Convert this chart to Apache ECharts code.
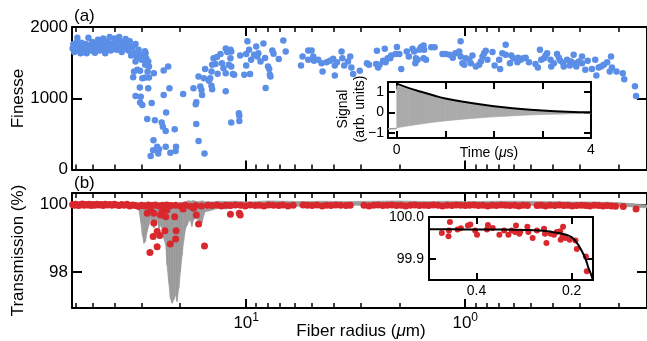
<!DOCTYPE html>
<html><head><meta charset="utf-8">
<script src="https://cdn.jsdelivr.net/npm/echarts@6/dist/echarts.min.js"></script>
<style>html,body{margin:0;padding:0;background:#fff}#c{width:647px;height:341px}</style>
</head><body><div id="c"></div>
<script>
// ---------- DATA ----------
// (a) Finesse vs fiber radius [radius (um), finesse]
const finessePoints = [
[62,1700],[61.5,1760],[61,1650],[60.5,1720],[60,1690],[59.5,1780],[59,1850],[58.5,1740],[58,1670],[57.5,1710],[57,1630],[56.5,1780],[56,1700],[55.5,1650],[55,1740],[54.5,1690],[54,1760],[53.5,1630],[53,1720],[52.5,1850],[52,1680],[51.5,1740],[51,1700],[50.5,1790],[50,1660],[49.5,1720],[49,1640],[48.5,1770],[48,1700],[47.5,1820],[47,1730],[46.5,1670],[46,1780],[45.5,1700],[45,1840],[44.5,1750],[44,1630],[43.5,1690],[43,1800],[42.5,1730],[42,1860],[41.5,1670],[41,1770],[40.5,1710],[40,1840],[39.5,1750],[39,1680],[38.5,1810],[38,1860],[37.5,1730],[37,1650],[36.5,1790],[36,1700],[35.5,1830],[35,1750],[34.5,1670],[34,1800],[33.5,1600],[33,1720],[32.5,1640],[32,1760],[31.5,1570],[31,1680],[30.5,1610],[30,1540],[29.5,1590],[29,1660],[28.5,1500],
[33.9,1720],[28.8,1630],[28.6,1560],[28.0,1515],[28.9,1470],[32.0,1515],[31.4,1400],[32.5,1375],[32.8,1295],[30.5,1385],[27.8,1445],[28.2,1375],[27.8,1290],[29.8,1280],[28.9,1290],[26.4,1350],[22.7,1445],[23.8,1390],[30.6,1150],[28.0,1140],[32.0,1030],[30.3,1020],[30.5,940],[29.8,905],[27.0,935],[22.4,1140],[23.8,1045],[23.2,800],[28.3,710],[26.1,690],[24.3,660],[24.0,600],[23.3,540],[21.2,565],[26.5,410],[25.5,320],[26.6,270],[25.0,285],[25.2,225],[27.3,190],[23.3,320],[22.2,235],[20.9,320],[21.0,260],
[19.4,1060],[16.9,945],[17.0,915],[16.9,640],[16.5,400],[15.5,225],[17.4,1140],[16.5,1305],[16.2,1165],[16.0,1115],[15.9,1045],[15.6,1280],[15.4,1410],[14.8,1245],[14.6,1280],[14.4,1175],[14.3,1125],[14.4,1375],[14.3,1470],[13.8,1480],[14.1,1560],[13.6,1580],[13.1,1620],[13.5,1345],[12.9,1490],[12.7,1420],[12.4,1700],[12.2,1650],[11.8,1680],[11.7,1655],[12.4,1350],[12.0,1470],[11.7,1445],[11.5,1340],[11.35,1330],[11.8,1560],[12.4,1100],[10.8,790],[10.75,755],[10.75,680],[11.7,660],[10.65,1600],[10.2,1330],[10.0,1620],[9.87,1800],[9.70,1680],[10.0,1460],[9.6,1340],[9.5,1540],[9.2,1610],
[9.0,1725],[8.8,1630],[8.9,1585],[8.6,1515],[8.34,1770],[8.2,1565],[8.15,1145],[7.95,1445],[7.85,1410],[7.8,1330],[7.75,1305],[7.6,1670],[7.5,1625],[7.1,1550],[6.77,1810],[6.6,1655],
[5.62,1460],[5.53,1585],[5.21,1670],[5.03,1670],[5.21,1540],[4.94,1585],[4.9,1525],[4.69,1540],[4.53,1490],[4.48,1375],[4.30,1505],[4.15,1525],[4.01,1555],[3.94,1460],[3.94,1320],[3.85,1505],[3.67,1655],[3.64,1560],[3.57,1460],[3.43,1515],[3.35,1585],[3.31,1430],[3.25,1340],[3.03,1385],[2.81,1490],[2.75,1470],[2.53,1665],[2.55,1480],[2.50,1430],[2.46,1470],[2.33,1695],[2.37,1525],[2.31,1505],[2.26,1560],[2.20,1560],[2.18,1600],[2.08,1620],[2.05,1720],[2.00,1620],[1.96,1410],[1.85,1655],[1.81,1585],[1.74,1695],[1.71,1655],[1.68,1560],[1.65,1540],[1.69,1490],[1.62,1680],[1.59,1720],[1.55,1740],[1.54,1680],[1.55,1560],[1.51,1540],[1.43,1715],[1.38,1715],[1.27,1620],[1.23,1620],
[1.18,1610],[1.14,1570],[1.11,1630],[1.065,1655],[1.05,1800],[1.05,1585],[1.03,1490],[1.01,1470],[0.994,1560],[0.959,1540],[0.927,1600],[0.943,1490],[0.895,1445],[0.864,1470],[0.849,1515],[0.834,1585],[0.82,1630],[0.806,1665],[0.792,1540],[0.751,1650],[0.734,1460],[0.70,1540],[0.693,1410],[0.677,1630],[0.654,1750],[0.654,1610],[0.625,1490],[0.616,1600],[0.603,1560],[0.578,1505],[0.574,1570],[0.559,1540],[0.543,1560],[0.530,1570],[0.512,1505],[0.478,1480],[0.466,1430],[0.456,1680],[0.45,1540],[0.437,1560],[0.43,1600],[0.423,1630],[0.408,1540],[0.405,1445],[0.394,1490],[0.381,1620],[0.374,1570],[0.368,1525],[0.357,1490],[0.355,1445],[0.343,1540],[0.333,1460],[0.329,1515],[0.320,1610],[0.314,1490],[0.311,1445],[0.303,1515],[0.293,1585],[0.293,1490],[0.283,1400],[0.276,1525],[0.264,1410],[0.255,1540],[0.252,1320],[0.246,1430],[0.240,1445],[0.233,1470],[0.225,1505],[0.219,1375],[0.216,1585],[0.214,1430],[0.204,1375],[0.191,1350],[0.188,1265],[0.168,1170],[0.166,1030]
];

// (b) measured transmission points [radius (um), transmission (%)]
const transmissionPoints = [
[62,100.0],[61,99.98],[60,100.01],[59,99.99],[58,99.97],[57,100.0],[56,100.02],[55,99.98],[54,100.0],[53,99.99],[52,100.01],[51,99.97],[50,100.0],[49,99.98],[48,100.01],[47,99.99],[46,100.0],[45,99.97],[44,100.01],[43,99.99],[42,100.0],[41,99.98],[40,100.01],[39,99.99],[38,99.97],[37,100.0],[36,99.98],[35,100.01],[34,99.96],[33,99.99],[32,99.97],[31,99.95],[30,99.98],[29,99.96],[28,99.99],[27,99.97],
[26,99.99],[25,99.96],[24,99.98],[23,99.99],[22,99.97],[21,99.98],[20,99.96],[19,99.99],[18,99.95],[17,99.97],[16,99.96],[15,99.98],[14.3,99.97],[13.6,99.99],[13,99.96],[12.4,99.98],[11.8,99.97],[11.2,99.99],[10.6,99.98],[10.1,99.96],[9.6,99.99],[9.1,99.97],[8.7,99.98],[8.3,99.96],[7.9,99.99],[7.5,99.98],[7.1,99.97],[6.8,99.99],[6.45,99.96],[6.1,99.98],[5.5,99.99],[5.25,99.98],[5.0,99.97],[4.75,99.99],[4.5,99.96],[4.3,99.98],[4.1,99.97],[3.9,99.99],[3.7,99.98],[3.5,99.97],[3.35,99.98],[2.9,99.98],[2.75,99.96],[2.62,99.98],[2.5,99.99],[2.38,99.97],[2.27,99.98],[2.16,99.99],[2.06,99.97],[1.96,99.98],[1.87,99.96],[1.78,99.98],[1.7,99.99],[1.62,99.97],[1.54,99.98],[1.47,99.97],[1.4,99.99],[1.33,99.98],[1.27,99.96],[1.21,99.98],[1.15,99.97],[1.1,99.99],[1.05,99.98],[1.0,99.97],[0.955,99.98],[0.91,99.99],[0.87,99.97],[0.83,99.98],[0.79,99.96],[0.755,99.98],[0.72,99.97],[0.685,99.99],[0.655,99.98],[0.625,99.97],[0.595,99.98],[0.57,99.96],[0.545,99.98],[0.52,99.97],[0.47,99.97],[0.45,99.98],[0.43,99.96],[0.41,99.98],[0.39,99.97],[0.372,99.99],[0.355,99.97],[0.34,99.98],[0.325,99.96],[0.31,99.97],[0.295,99.98],[0.282,99.97],[0.27,99.96],[0.258,99.98],[0.246,99.97],[0.235,99.96],[0.225,99.97],[0.215,99.96],[0.206,99.95],[0.19,99.94],[0.166,99.87],
[28.3,99.74],[26.4,99.74],[27.3,99.87],[24.6,99.69],[24.2,99.79],[23.3,99.64],[23.8,99.94],[22.7,99.94],[23.0,99.84],[21.2,99.64],[19.4,99.87],[26.4,99.45],[25.5,99.2],[26.6,99.05],[24.8,99.08],[23.5,99.22],[20.9,99.22],[21.0,98.98],[22.2,98.83],[25.5,98.75],[27.5,98.58],[15.5,98.77],[16.5,99.42],[16.9,99.69],[11.8,99.71],[10.75,99.74],[10.65,99.69],[17.4,99.89]
];

// (b) continuous transmission trace envelope
const traceRadius = [62.4,47,40,34.3,32.5,30.9,30.3,29.8,29.3,28.8,28.3,27.8,27.3,26.9,26.4,25.9,25.5,25.0,24.6,24.2,23.8,23.3,23.0,22.6,22.2,21.8,21.4,21.0,20.7,20.3,19.95,19.6,19.3,18.9,18.6,18.3,18.0,17.7,17.4,17.0,16.5,15.9,15.6,15.4,14.8,14.3,13.4,12.5,11.2,9.76,7.92,6.5,5.78,4.5,3.43,2.6,2.03,1.5,1.2,0.9,0.713,0.55,0.423,0.32,0.25,0.203,0.173,0.148];
const traceHigh = [100.05,100.06,100.05,100.06,100.06,100.05,
100.06,100.05,100.07,100.06,100.05,100.07,100.06,100.05,100.06,100.07,100.05,100.06,100.07,100.06,100.05,100.06,100.04,100.05,100.06,100.05,100.04,100.05,100.06,100.05,
100.06,100.07,100.06,100.08,100.1,100.12,100.1,100.11,100.12,100.1,100.09,100.11,100.1,100.08,100.09,100.08,
100.1,100.09,100.1,100.08,100.11,100.1,100.09,100.1,100.09,100.1,100.11,100.09,100.1,100.09,100.1,100.1,100.09,100.08,100.08,100.06,100.03,99.99];
const traceLow = [99.97,99.97,99.96,99.95,99.92,99.83,99.50,99.10,98.85,98.91,99.21,99.39,99.59,99.47,99.30,99.39,99.56,99.25,99.39,99.30,99.00,98.80,98.21,97.72,97.22,97.07,97.17,97.32,97.12,97.52,98.01,98.50,98.90,99.30,99.39,99.50,99.54,99.35,99.54,99.59,99.54,99.45,99.69,99.79,99.81,99.84,99.89,99.87,99.91,99.94,99.96,99.97,99.95,99.97,99.98,99.97,99.98,99.97,99.98,99.98,99.98,99.97,99.98,99.97,99.98,99.96,99.93,99.90];

// inset (a): ring-down signal
const preTime = [-0.18,-0.1,0];
const preSignal = [-0.8,-0.8,-0.78];
const ringTime = [0,0.25,0.5,0.75,1,1.25,1.5,1.75,2,2.25,2.5,2.75,3,3.25,3.5,3.75,4];
const ringHigh = [1.32,1.13,0.97,0.82,0.67,0.56,0.46,0.38,0.3,0.24,0.18,0.14,0.1,0.07,0.05,0.03,0.02];
const ringLow = [-0.75,-0.65,-0.56,-0.48,-0.41,-0.35,-0.3,-0.25,-0.21,-0.18,-0.15,-0.12,-0.1,-0.08,-0.07,-0.05,-0.04];
const envTime = [0,0.25,0.5,0.75,1,1.5,2,2.5,3,3.5,4];
const envSignal = [1.42,1.2,1.02,0.85,0.69,0.48,0.31,0.19,0.1,0.04,0.01];

// inset (b): zoom on small radii
const insetPoints = [[0.473,99.962],[0.459,99.954],[0.456,99.988],[0.458,99.968],[0.44,99.970],[0.433,99.973],[0.418,99.980],[0.413,99.982],[0.403,99.968],[0.399,99.958],[0.378,99.970],[0.376,99.981],[0.366,99.974],[0.352,99.958],[0.342,99.968],[0.333,99.958],[0.326,99.968],[0.317,99.980],[0.319,99.964],[0.31,99.960],[0.308,99.965],[0.293,99.977],[0.291,99.964],[0.282,99.950],[0.273,99.968],[0.258,99.972],[0.256,99.960],[0.253,99.938],[0.244,99.960],[0.237,99.958],[0.231,99.964],[0.224,99.966],[0.223,99.946],[0.218,99.977],[0.219,99.954],[0.213,99.95],[0.204,99.946],[0.192,99.944],[0.189,99.924],[0.17,99.906],[0.168,99.871]];
const fitRadius = [0.5,0.45,0.4,0.35,0.3,0.27,0.25,0.235,0.22,0.21,0.2,0.19,0.18,0.17,0.165,0.16,0.155];
const fitT = [99.971,99.971,99.970,99.970,99.969,99.968,99.966,99.963,99.960,99.957,99.952,99.940,99.922,99.898,99.880,99.866,99.849];

// tick values
const majorTicks = [10, 1];
const minorTicks = [60,50,40,30,20,9,8,7,6,5,4,3,2,0.9,0.8,0.7,0.6,0.5,0.4,0.3,0.2];
const finesseTicks = [0,1000,2000];
const transTicks = [98,100];
const timeTicks = [0,1,2,3,4];
const timeLabels = [0,4];
const signalTicks = [-1,0,1];
const insetXTicks = [0.2,0.4];
const insetYTicks = [99.9,100.0];

// ---------- CHART ----------
const FONT = "'Liberation Sans', Arial, Helvetica, sans-serif";
const BLUE = '#5b8ee6', RED = '#d8272d', GRAY = '#9b9b9b';
const R_MIN = 0.148, R_MAX = 62.4;

function logX(grid, pos, ticks, len, w, line, label) {
  return {
    type: 'log', logBase: 10, gridIndex: grid, position: pos, min: R_MIN, max: R_MAX, inverse: true,
    axisLine: { show: line, lineStyle: { color: '#000', width: 2 } },
    axisTick: { show: true, inside: true, length: len, customValues: ticks, lineStyle: { color: '#000', width: w } },
    axisLabel: label || { show: false },
    splitLine: { show: false }, minorTick: { show: false }, minorSplitLine: { show: false }
  };
}
function valAxis(kind, grid, pos, min, max, ticks, len, label, extra) {
  return Object.assign({
    type: 'value', gridIndex: grid, position: pos, min: min, max: max,
    axisLine: { show: true, onZero: false, lineStyle: { color: '#000', width: 2 } },
    axisTick: { show: true, inside: true, length: len, customValues: ticks, lineStyle: { color: '#000', width: 2 } },
    axisLabel: label || { show: false },
    splitLine: { show: false }
  }, extra || {});
}
const mainLabel = (vals, fmt) => ({ show: true, customValues: vals, color: '#000', fontFamily: FONT, fontSize: 17, margin: 4, formatter: fmt });
const insetLabel = (vals, fmt, margin) => ({ show: true, customValues: vals, color: '#000', fontFamily: FONT, fontSize: 14, margin: margin, formatter: fmt });

function band(R, HI, LO, color) {
  return function (params, api) {
    const i = params.dataIndex;
    if (i >= R.length - 1) return null;
    const a = api.coord([R[i], HI[i]]), b = api.coord([R[i + 1], HI[i + 1]]);
    const c = api.coord([R[i + 1], LO[i + 1]]), d = api.coord([R[i], LO[i]]);
    return { type: 'polygon', shape: { points: [a, b, c, d] }, style: { fill: color, stroke: color, lineWidth: 0.6 } };
  };
}

const chart = echarts.init(document.getElementById('c'), null, { renderer: 'canvas' });
const option = {
  animation: false,
  backgroundColor: '#fff',
  textStyle: { fontFamily: FONT },
  grid: [
    { left: 72, top: 27, width: 578, height: 142.5 },
    { left: 72, top: 193, width: 578, height: 115 },
    { left: 388, top: 82, width: 203, height: 56, show: true, backgroundColor: '#fff', borderWidth: 0 },
    { left: 429, top: 217, width: 164, height: 63, show: true, backgroundColor: '#fff', borderWidth: 0 }
  ],
  xAxis: [
    logX(0, 'bottom', majorTicks, 9, 2, true),
    logX(0, 'bottom', minorTicks, 5, 1.5, false),
    logX(0, 'top', majorTicks, 9, 2, true),
    logX(0, 'top', minorTicks, 5, 1.5, false),
    logX(1, 'bottom', majorTicks, 9, 2, true, {
      show: true, customValues: majorTicks, margin: 4, color: '#000',
      formatter: v => '{m|10}{s|' + Math.round(Math.log10(v)) + '}',
      rich: { m: { fontSize: 17, fontFamily: FONT, color: '#000', lineHeight: 22 },
              s: { fontSize: 12, fontFamily: FONT, color: '#000', lineHeight: 12, verticalAlign: 'top' } }
    }),
    logX(1, 'bottom', minorTicks, 5, 1.5, false),
    logX(1, 'top', majorTicks, 9, 2, true),
    logX(1, 'top', minorTicks, 5, 1.5, false),
    valAxis('x', 2, 'bottom', -0.18, 4, timeTicks, 7, insetLabel(timeLabels, v => String(v), 5)),
    valAxis('x', 2, 'top', -0.18, 4, timeTicks, 7),
    valAxis('x', 3, 'bottom', 0.155, 0.5, insetXTicks, 7, insetLabel(insetXTicks, v => v.toFixed(1), 4), { inverse: true }),
    valAxis('x', 3, 'top', 0.155, 0.5, insetXTicks, 7, null, { inverse: true })
  ],
  yAxis: [
    valAxis('y', 0, 'left', 0, 2000, finesseTicks, 10, mainLabel(finesseTicks, v => String(v))),
    valAxis('y', 0, 'right', 0, 2000, finesseTicks, 10),
    valAxis('y', 1, 'left', 96.93, 100.344, transTicks, 10, mainLabel(transTicks, v => String(Math.round(v)))),
    valAxis('y', 1, 'right', 96.93, 100.344, transTicks, 10),
    valAxis('y', 2, 'left', -1.25, 1.5, signalTicks, 7, insetLabel(signalTicks, v => v < 0 ? '\u2212' + Math.abs(v) : String(v), 4)),
    valAxis('y', 2, 'right', -1.25, 1.5, signalTicks, 7),
    valAxis('y', 3, 'left', 99.85, 100.0, insetYTicks, 7, insetLabel(insetYTicks, v => v.toFixed(1), 5)),
    valAxis('y', 3, 'right', 99.85, 100.0, insetYTicks, 7)
  ],
  series: [
    { type: 'scatter', xAxisIndex: 0, yAxisIndex: 0, data: finessePoints, symbolSize: 6.5,
      itemStyle: { color: BLUE, opacity: 1 }, z: 3 },
    { type: 'custom', xAxisIndex: 4, yAxisIndex: 2, clip: true,
      data: traceRadius.map((r, i) => [r, traceHigh[i], traceLow[i]]), encode: { x: 0, y: [1, 2] },
      renderItem: band(traceRadius, traceHigh, traceLow, GRAY), z: 2 },
    { type: 'scatter', xAxisIndex: 4, yAxisIndex: 2, data: transmissionPoints, symbolSize: 7,
      itemStyle: { color: RED, opacity: 1 }, z: 3 },
    { type: 'line', xAxisIndex: 8, yAxisIndex: 4, data: preTime.map((t, i) => [t, preSignal[i]]),
      showSymbol: false, lineStyle: { color: GRAY, width: 1.5 }, z: 3 },
    { type: 'custom', xAxisIndex: 8, yAxisIndex: 4, clip: true,
      data: ringTime.map((t, i) => [t, ringHigh[i], ringLow[i]]), encode: { x: 0, y: [1, 2] },
      renderItem: band(ringTime, ringHigh, ringLow, '#aaaaaa'), z: 3 },
    { type: 'line', xAxisIndex: 8, yAxisIndex: 4, data: envTime.map((t, i) => [t, envSignal[i]]),
      showSymbol: false, smooth: true, lineStyle: { color: '#000', width: 2 }, z: 4 },
    { type: 'scatter', xAxisIndex: 10, yAxisIndex: 6, data: insetPoints, symbolSize: 6,
      itemStyle: { color: RED, opacity: 1 }, z: 3 },
    { type: 'line', xAxisIndex: 10, yAxisIndex: 6, data: fitRadius.map((r, i) => [r, fitT[i]]),
      showSymbol: false, smooth: true, clip: true, lineStyle: { color: '#000', width: 2 }, z: 4 }
  ],
  graphic: [
    { type: 'text', x: 74, y: 16.5, style: { text: '(a)', fontSize: 17, fontFamily: FONT, fill: '#000', verticalAlign: 'middle' } },
    { type: 'text', x: 74, y: 183, style: { text: '(b)', fontSize: 17, fontFamily: FONT, fill: '#000', verticalAlign: 'middle' } },
    { type: 'text', x: 18, y: 98.5, rotation: Math.PI / 2, style: { text: 'Finesse', fontSize: 17, fontFamily: FONT, fill: '#000', align: 'center', verticalAlign: 'middle' } },
    { type: 'text', x: 18, y: 250.5, rotation: Math.PI / 2, style: { text: 'Transmission (%)', fontSize: 17, fontFamily: FONT, fill: '#000', align: 'center', verticalAlign: 'middle' } },
    { type: 'text', x: 361, y: 331, style: { text: 'Fiber radius ({i|\u03bc}m)', fontSize: 17, fontFamily: FONT, fill: '#000', align: 'center', verticalAlign: 'middle',
      rich: { i: { fontSize: 17, fontFamily: FONT, fontStyle: 'italic', fill: '#000' } } } },
    { type: 'text', x: 352, y: 109, rotation: Math.PI / 2, style: { text: 'Signal\n(arb. units)', fontSize: 14, lineHeight: 17, fontFamily: FONT, fill: '#000', align: 'center', verticalAlign: 'middle' } },
    { type: 'text', x: 489, y: 153, style: { text: 'Time ({i|\u03bc}s)', fontSize: 14, fontFamily: FONT, fill: '#000', align: 'center', verticalAlign: 'middle',
      rich: { i: { fontSize: 14, fontFamily: FONT, fontStyle: 'italic', fill: '#000' } } } }
  ]
};
chart.setOption(option);
</script>
</body></html>
